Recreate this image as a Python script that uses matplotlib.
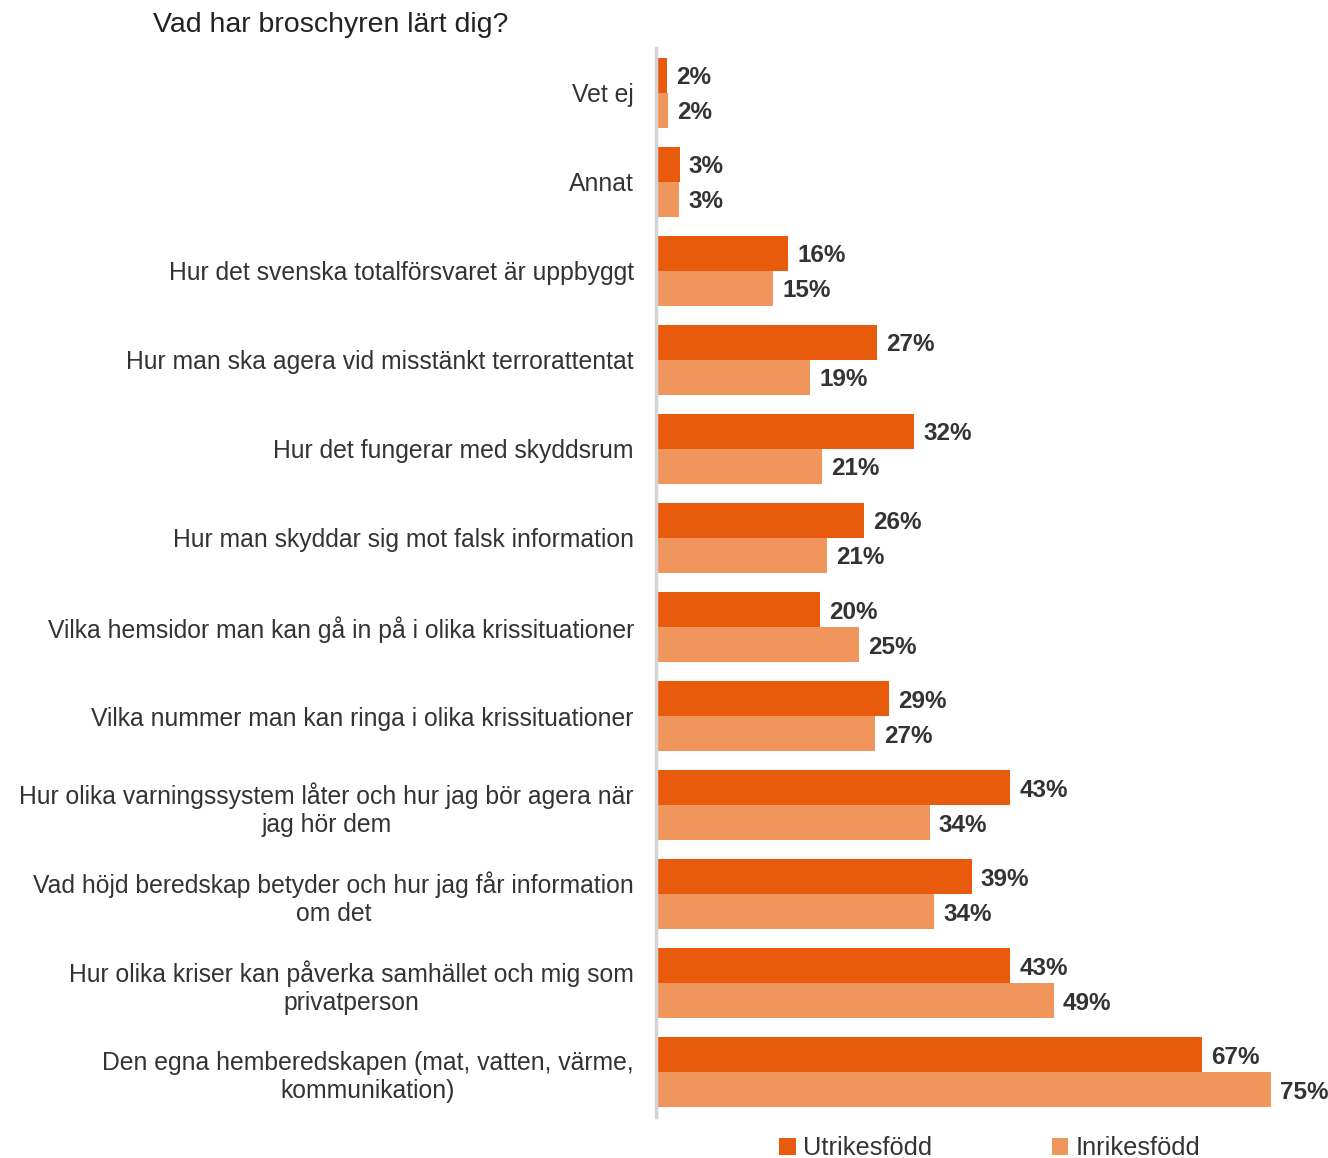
import matplotlib.pyplot as plt
import numpy as np

plt.rcParams['font.family'] = ['Liberation Sans', 'DejaVu Sans']

categories = [
    "Vet ej",
    "Annat",
    "Hur det svenska totalförsvaret är uppbyggt",
    "Hur man ska agera vid misstänkt terrorattentat",
    "Hur det fungerar med skyddsrum",
    "Hur man skyddar sig mot falsk information",
    "Vilka hemsidor man kan gå in på i olika krissituationer",
    "Vilka nummer man kan ringa i olika krissituationer",
    "Hur olika varningssystem låter och hur jag bör agera när\njag hör dem",
    "Vad höjd beredskap betyder och hur jag får information\nom det",
    "Hur olika kriser kan påverka samhället och mig som\nprivatperson",
    "Den egna hemberedskapen (mat, vatten, värme,\nkommunikation)",
]
utrikes = [1.4, 2.9, 16.1, 27.0, 31.5, 25.4, 20.0, 28.4, 43.2, 38.5, 43.2, 66.6]
inrikes = [1.5, 2.8, 14.3, 18.8, 20.2, 20.9, 24.8, 26.7, 33.4, 33.9, 48.5, 75.0]
utrikes_lbl = [2, 3, 16, 27, 32, 26, 20, 29, 43, 39, 43, 67]
inrikes_lbl = [2, 3, 15, 19, 21, 21, 25, 27, 34, 34, 49, 75]

c_ut = "#E85A0C"
c_in = "#F0965C"
txt = "#333333"

fig = plt.figure(figsize=(13.28, 11.58), dpi=100)
ax = fig.add_axes([656 / 1328, 1 - 1117 / 1158, 656 / 1328, (1117 - 48) / 1158])

y = np.arange(len(categories))
h = 0.393
ax.barh(y - h / 2, utrikes, height=h, color=c_ut, label="Utrikesfödd")
ax.barh(y + h / 2, inrikes, height=h, color=c_in, label="Inrikesfödd")

for i in range(len(categories)):
    ax.text(utrikes[i] + 1.1, y[i] - h / 2, f"{utrikes_lbl[i]}%", va="center_baseline", ha="left",
            fontsize=17.5, fontweight="bold", color=txt)
    ax.text(inrikes[i] + 1.1, y[i] + h / 2, f"{inrikes_lbl[i]}%", va="center_baseline", ha="left",
            fontsize=17.5, fontweight="bold", color=txt)

ax.set_xlim(0, 80)
ax.set_ylim(11.5, -0.5)
ax.set_yticks(y)
ax.set_yticklabels(categories, fontsize=17.8, color=txt, multialignment="center")
ax.tick_params(axis="y", length=0, pad=16)
ax.set_xticks([])
for s in ["top", "right", "bottom"]:
    ax.spines[s].set_visible(False)
ax.spines["left"].set_color("#D4D4D4")
ax.spines["left"].set_linewidth(2.5)

fig.text(153 / 1328, 1 - 25 / 1158, "Vad har broschyren lärt dig?", fontsize=20.5,
         color="#222222", va="center", ha="left")

fig.legend(loc="center", bbox_to_anchor=(990 / 1328, 1 - 1148 / 1158), ncol=2, frameon=False,
           fontsize=18.3, handlelength=0.65, handleheight=0.65, handletextpad=0.3,
           columnspacing=4.7, labelcolor=txt)

fig.savefig("out.png", dpi=100)
